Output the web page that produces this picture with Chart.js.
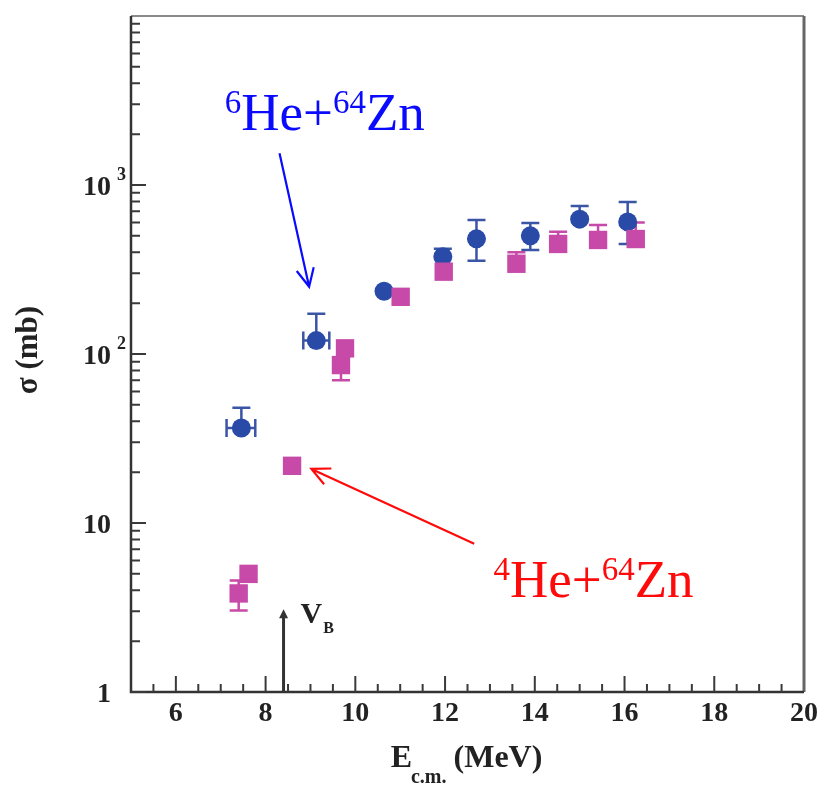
<!DOCTYPE html>
<html>
<head>
<meta charset="utf-8">
<script src="https://cdn.jsdelivr.net/npm/chart.js@4.4.1/dist/chart.umd.min.js"></script>
<style>
    html, body { margin: 0; padding: 0; background: #fff; }
    canvas { display: block; }
</style>
</head>
<body>
<canvas id="sigmaChart" width="823" height="785"></canvas>
<script>
// Axis ranges and tick labels
const xMin = 5, xMax = 20;
const yMin = 1, yMax = 10000;
const xTickVals = [6, 8, 10, 12, 14, 16, 18, 20];
const yTickVals = [1, 10, 100, 1000];
const yTickBase = ['1', '10', '10', '10'];
const yTickExp = ['', '', '2', '3'];

// 6He + 64Zn (blue circles)
const he6E     = [7.46, 9.13, 10.64, 11.95, 12.70, 13.90, 15.00, 16.07];
const he6Sig   = [36.5, 120, 235, 376, 480, 500, 628, 605];
const he6SigLo = [null, null, null, null, 356, 413, null, 448];
const he6SigHi = [48, 173, null, 420, 620, 596, 751, 793];
const he6ELo   = [7.13, 8.84, null, null, null, null, null, null];
const he6EHi   = [7.77, 9.42, null, null, null, null, null, null];

// 4He + 64Zn (pink squares)
const he4E     = [7.40, 7.62, 8.59, 9.68, 9.77, 11.01, 11.97, 13.59, 14.52, 15.41, 16.25];
const he4Sig   = [3.83, 5.0, 21.8, 86, 108, 218, 307, 342, 448, 473, 479];
const he4SigLo = [3.04, null, null, 70, null, null, null, null, null, null, null];
const he4SigHi = [4.57, null, null, null, null, null, null, 400, 528, 580, 600];

// Annotations, in data coordinates
const vbEnergy = 8.40;
const vbTop = 3;
const he6LabelAt = [7.09, 2106];
const he6ArrowFrom = [8.31, 1541];
const he6ArrowTo = [8.97, 250];
const he4LabelAt = [13.08, 3.63];
const he4ArrowFrom = [12.65, 7.55];
const he4ArrowTo = [9.02, 20.9];

const SERIF = "'Liberation Serif', 'Times New Roman', serif";
const BLUE = '#2a4aa8';
const PINK = '#c74aa8';

function drawErrors(ctx, xs, ys, E, S, lo, hi, eLo, eHi, color) {
    ctx.save();
    ctx.strokeStyle = color;
    ctx.lineWidth = 2.5;
    E.forEach((e, i) => {
        const px = xs.getPixelForValue(e);
        const py = ys.getPixelForValue(S[i]);
        [lo[i], hi[i]].forEach(v => {
            if (v == null) return;
            const q = ys.getPixelForValue(v);
            ctx.beginPath();
            ctx.moveTo(px, py); ctx.lineTo(px, q);
            ctx.moveTo(px - 9, q); ctx.lineTo(px + 9, q);
            ctx.stroke();
        });
        if (eLo && eLo[i] != null) {
            const a = xs.getPixelForValue(eLo[i]);
            const b = xs.getPixelForValue(eHi[i]);
            ctx.beginPath();
            ctx.moveTo(a, py); ctx.lineTo(b, py);
            ctx.moveTo(a, py - 9); ctx.lineTo(a, py + 9);
            ctx.moveTo(b, py - 9); ctx.lineTo(b, py + 9);
            ctx.stroke();
        }
    });
    ctx.restore();
}

function drawArrow(ctx, x1, y1, x2, y2, color) {
    const ang = Math.atan2(y2 - y1, x2 - x1);
    const len = 20, spread = 0.45;
    ctx.save();
    ctx.strokeStyle = color;
    ctx.lineWidth = 2.2;
    ctx.beginPath();
    ctx.moveTo(x1, y1); ctx.lineTo(x2, y2);
    ctx.moveTo(x2 - len * Math.cos(ang - spread), y2 - len * Math.sin(ang - spread));
    ctx.lineTo(x2, y2);
    ctx.lineTo(x2 - len * Math.cos(ang + spread), y2 - len * Math.sin(ang + spread));
    ctx.stroke();
    ctx.restore();
}

// text like "^6He+^64Zn": superscripts are the mass numbers
function drawNuclide(ctx, x, y, parts, color) {
    ctx.save();
    ctx.fillStyle = color;
    ctx.textAlign = 'left';
    ctx.textBaseline = 'alphabetic';
    parts.forEach(([txt, sup]) => {
        ctx.font = sup ? `33px ${SERIF}` : `53px ${SERIF}`;
        ctx.fillText(txt, x, sup ? y - 17 : y);
        x += ctx.measureText(txt).width;
    });
    ctx.restore();
}

const decorPlugin = {
    id: 'decor',
    beforeDatasetsDraw(chart) {
        const { ctx, scales: { x, y } } = chart;
        drawErrors(ctx, x, y, he6E, he6Sig, he6SigLo, he6SigHi, he6ELo, he6EHi, '#3b55a6');
        drawErrors(ctx, x, y, he4E, he4Sig, he4SigLo, he4SigHi, null, null, PINK);
    },
    afterDraw(chart) {
        const { ctx, chartArea: a, scales: { x, y } } = chart;
        ctx.save();

        // frame
        ctx.lineWidth = 2;
        ctx.strokeStyle = '#8a8a8a';
        ctx.beginPath(); ctx.moveTo(a.left, a.top); ctx.lineTo(a.right, a.top); ctx.stroke();
        ctx.lineWidth = 3;
        ctx.strokeStyle = '#666';
        ctx.beginPath(); ctx.moveTo(a.right, a.top); ctx.lineTo(a.right, a.bottom); ctx.stroke();
        ctx.lineWidth = 2.5;
        ctx.strokeStyle = '#333';
        ctx.beginPath();
        ctx.moveTo(a.left, a.top); ctx.lineTo(a.left, a.bottom); ctx.lineTo(a.right, a.bottom);
        ctx.stroke();

        // inward ticks
        ctx.lineWidth = 2;
        ctx.strokeStyle = '#3a3a3a';
        ctx.beginPath();
        for (let v = xMin + 0.5; v < xMax; v += 0.5) {
            const px = x.getPixelForValue(v);
            const len = (v % 2 === 0) ? 16 : 8;
            ctx.moveTo(px, a.bottom); ctx.lineTo(px, a.bottom - len);
        }
        for (let dec = yMin; dec < yMax; dec *= 10) {
            for (let m = 1; m <= 9; m++) {
                const py = y.getPixelForValue(dec * m);
                const len = m === 1 ? 15 : 9;
                ctx.moveTo(a.left, py); ctx.lineTo(a.left + len, py);
            }
        }
        ctx.stroke();

        // y tick labels with exponents
        ctx.fillStyle = '#222';
        yTickVals.forEach((v, i) => {
            const py = y.getPixelForValue(v);
            ctx.font = `bold 28px ${SERIF}`;
            ctx.textAlign = 'right';
            ctx.textBaseline = 'middle';
            ctx.fillText(yTickBase[i], 111, py + 3);
            if (yTickExp[i]) {
                ctx.font = `bold 18px ${SERIF}`;
                ctx.textAlign = 'left';
                ctx.fillText(yTickExp[i], 117, py - 10);
            }
        });

        // axis titles
        ctx.font = `bold 32px ${SERIF}`;
        ctx.textBaseline = 'alphabetic';
        const sub = 'c.m.', rest = ' (MeV)';
        const wE = ctx.measureText('E').width;
        const wRest = ctx.measureText(rest).width;
        ctx.font = `bold 20px ${SERIF}`;
        const wSub = ctx.measureText(sub).width;
        let tx = (a.left + a.right) / 2 - (wE + wSub + wRest) / 2;
        ctx.textAlign = 'left';
        ctx.font = `bold 32px ${SERIF}`;
        ctx.fillText('E', tx, 767);
        ctx.font = `bold 20px ${SERIF}`;
        ctx.fillText(sub, tx + wE - 1, 783);
        ctx.font = `bold 32px ${SERIF}`;
        ctx.fillText(rest, tx + wE + wSub - 2, 767);

        ctx.save();
        ctx.translate(29, 350);
        ctx.rotate(-Math.PI / 2);
        ctx.textAlign = 'center';
        ctx.textBaseline = 'middle';
        ctx.font = `bold 31px ${SERIF}`;
        ctx.fillText('\u03c3 (mb)', 0, 0);
        ctx.restore();

        // V_B marker
        const vx = x.getPixelForValue(vbEnergy);
        const vTop = y.getPixelForValue(vbTop);
        ctx.strokeStyle = '#333';
        ctx.fillStyle = '#333';
        ctx.lineWidth = 3;
        ctx.beginPath(); ctx.moveTo(vx, a.bottom); ctx.lineTo(vx, vTop + 4); ctx.stroke();
        ctx.beginPath();
        ctx.moveTo(vx, vTop - 2); ctx.lineTo(vx - 4.5, vTop + 7); ctx.lineTo(vx + 4.5, vTop + 7);
        ctx.closePath(); ctx.fill();
        ctx.fillStyle = '#222';
        ctx.textAlign = 'left';
        ctx.textBaseline = 'alphabetic';
        ctx.font = `bold 30px ${SERIF}`;
        ctx.fillText('V', vx + 17, vTop + 12);
        const wV = ctx.measureText('V').width;
        ctx.font = `bold 16px ${SERIF}`;
        ctx.fillText('B', vx + 17 + wV + 1, vTop + 22);

        // reaction labels and arrows
        drawNuclide(ctx, x.getPixelForValue(he6LabelAt[0]), y.getPixelForValue(he6LabelAt[1]),
            [['6', true], ['He+', false], ['64', true], ['Zn', false]], '#0a0aff');
        drawArrow(ctx, x.getPixelForValue(he6ArrowFrom[0]), y.getPixelForValue(he6ArrowFrom[1]),
            x.getPixelForValue(he6ArrowTo[0]), y.getPixelForValue(he6ArrowTo[1]), '#0a0aff');
        drawNuclide(ctx, x.getPixelForValue(he4LabelAt[0]), y.getPixelForValue(he4LabelAt[1]),
            [['4', true], ['He+', false], ['64', true], ['Zn', false]], '#ff0a0a');
        drawArrow(ctx, x.getPixelForValue(he4ArrowFrom[0]), y.getPixelForValue(he4ArrowFrom[1]),
            x.getPixelForValue(he4ArrowTo[0]), y.getPixelForValue(he4ArrowTo[1]), '#ff0a0a');

        ctx.restore();
    }
};

new Chart(document.getElementById('sigmaChart'), {
    type: 'scatter',
    data: {
        datasets: [
            {
                label: '4He+64Zn',
                data: he4E.map((e, i) => ({ x: e, y: he4Sig[i] })),
                pointStyle: 'rect',
                pointRadius: 13,
                backgroundColor: PINK,
                borderWidth: 0,
                order: 0
            },
            {
                label: '6He+64Zn',
                data: he6E.map((e, i) => ({ x: e, y: he6Sig[i] })),
                pointStyle: 'circle',
                pointRadius: 9.5,
                backgroundColor: BLUE,
                borderWidth: 0,
                order: 1
            }
        ]
    },
    options: {
        responsive: false,
        animation: false,
        layout: { padding: { top: 16, right: 16, left: 0, bottom: 0 } },
        plugins: {
            legend: { display: false },
            tooltip: { enabled: false }
        },
        scales: {
            x: {
                type: 'linear',
                min: xMin,
                max: xMax,
                afterBuildTicks: s => { s.ticks = xTickVals.map(v => ({ value: v })); },
                afterFit: s => { s.height = 93; },
                grid: { display: false, drawTicks: false },
                border: { display: false },
                ticks: {
                    padding: 5,
                    color: '#222',
                    maxRotation: 0,
                    font: { family: SERIF, size: 28, weight: 'bold' }
                }
            },
            y: {
                type: 'logarithmic',
                min: yMin,
                max: yMax,
                afterFit: s => { s.width = 131; },
                grid: { display: false, drawTicks: false },
                border: { display: false },
                ticks: { display: false }
            }
        }
    },
    plugins: [decorPlugin]
});
</script>
</body>
</html>
